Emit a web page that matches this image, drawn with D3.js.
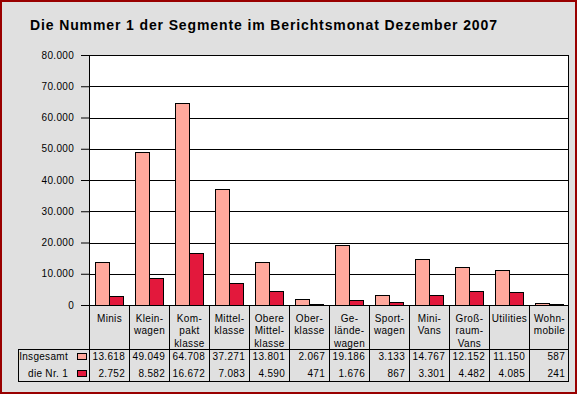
<!DOCTYPE html>
<html>
<head>
<meta charset="utf-8">
<style>
  body { margin: 0; background: #fff; }
  text { font-family: "Liberation Sans", Arial, sans-serif; fill: #000; }
</style>
</head>
<body>
<div id="chart"></div>
<script src="https://cdn.jsdelivr.net/npm/d3@7"></script>
<script>
// data
var categories = ["Minis", "Klein-\nwagen", "Kom-\npakt\nklasse", "Mittel-\nklasse", "Obere\nMittel-\nklasse",
  "Ober-\nklasse", "Ge-\nlände-\nwagen", "Sport-\nwagen", "Mini-\nVans", "Groß-\nraum-\nVans", "Utilities", "Wohn-\nmobile"];
var seriesNames = ["Insgesamt", "die Nr. 1"];
var insgesamt = [13618, 49049, 64708, 37271, 13801, 2067, 19186, 3133, 14767, 12152, 11150, 587];
var nummer1 = [2752, 8582, 16672, 7083, 4590, 471, 1676, 867, 3301, 4482, 4085, 241];
var yTicks = [0, 10000, 20000, 30000, 40000, 50000, 60000, 70000, 80000];
var title = "Die Nummer 1 der Segmente im Berichtsmonat Dezember 2007";

var colors = ["#ffa89c", "#e3183c"];
var series = [insgesamt, nummer1];

var W = 579, H = 396;
// plot box (named so it does not clash with window.top)
var plotL = 89, plotR = 569, plotT = 55, plotB = 305;

var de = d3.formatLocale({decimal: ",", thousands: ".", grouping: [3], currency: ["", " €"]});
var fmt = de.format(",d");

var svg = d3.select("#chart").append("svg")
    .attr("width", W)
    .attr("height", H);

// background and dark red frame
svg.append("rect")
    .attr("x", 1).attr("y", 1)
    .attr("width", 575).attr("height", 392)
    .attr("fill", "#e0e0e0")
    .attr("stroke", "#990000")
    .attr("stroke-width", 2);

svg.append("text")
    .attr("x", 30).attr("y", 29.5)
    .attr("textLength", 467)
    .attr("lengthAdjust", "spacing")
    .style("font-size", "14px")
    .style("font-weight", "bold")
    .text(title);

var x = d3.scaleBand()
    .domain(d3.range(categories.length))
    .range([plotL, plotR])
    .paddingInner(0.3)
    .paddingOuter(0.15);

var xs = d3.scaleBand()
    .domain(d3.range(series.length))
    .range([0, x.bandwidth()]);

var y = d3.scaleLinear()
    .domain([0, 80000])
    .range([plotB, plotT]);

// plot area
svg.append("rect")
    .attr("x", plotL).attr("y", plotT)
    .attr("width", plotR - plotL).attr("height", plotB - plotT)
    .attr("fill", "#fff");

// y axis with gridlines
var yAxis = svg.append("g")
    .attr("transform", "translate(" + plotL + ",0)")
    .call(d3.axisLeft(y).tickValues(yTicks).tickFormat(fmt).tickSize(8).tickPadding(7));
yAxis.select(".domain").remove();
yAxis.selectAll("line").attr("stroke", "#000");
yAxis.selectAll("text")
    .style("font-size", "10px")
    .style("letter-spacing", "0.3px")
    .style("font-family", "'Liberation Sans', Arial, sans-serif");

svg.append("g").selectAll("line")
  .data(yTicks.filter(function(d) { return d > 0; }))
  .enter().append("line")
    .attr("x1", plotL).attr("x2", plotR)
    .attr("y1", function(d) { return Math.round(y(d)) + 0.5; })
    .attr("y2", function(d) { return Math.round(y(d)) + 0.5; })
    .attr("stroke", "#000");

// bars
series.forEach(function(vals, s) {
  svg.append("g").selectAll("rect")
    .data(vals)
    .enter().append("rect")
      .attr("x", function(d, i) { return Math.round(x(i) + xs(s)) + 0.5; })
      .attr("y", function(d) { return Math.round(y(d)) + 0.5; })
      .attr("width", Math.round(xs.bandwidth()))
      .attr("height", function(d) { return Math.max(0, Math.round(plotB - y(d))); })
      .attr("fill", colors[s])
      .attr("stroke", "#000")
      .attr("stroke-width", 1);
});

// axis lines of the plot
var frame = svg.append("g").attr("stroke", "#000").attr("fill", "none");
frame.append("line").attr("x1", plotL + 0.5).attr("x2", plotL + 0.5).attr("y1", plotT).attr("y2", 381.5);
frame.append("line").attr("x1", plotR - 0.5).attr("x2", plotR - 0.5).attr("y1", plotT).attr("y2", 381.5);
frame.append("line").attr("x1", plotL - 8).attr("x2", plotR).attr("y1", plotB + 0.5).attr("y2", plotB + 0.5);

// data table
var rowTop = 349, rowBottom = 381, tableLeft = 18;
var step = x.step();
var colStarts = d3.range(categories.length).map(function(i) { return x(i) - x.paddingOuter() * step; });

frame.selectAll(".col")
  .data(colStarts.slice(1))
  .enter().append("line")
    .attr("x1", function(d) { return Math.round(d) + 0.5; })
    .attr("x2", function(d) { return Math.round(d) + 0.5; })
    .attr("y1", plotB).attr("y2", rowBottom + 0.5);
frame.append("line").attr("x1", tableLeft).attr("x2", plotR).attr("y1", rowTop + 0.5).attr("y2", rowTop + 0.5);
frame.append("line").attr("x1", tableLeft).attr("x2", plotR).attr("y1", rowBottom + 0.5).attr("y2", rowBottom + 0.5);
frame.append("line").attr("x1", tableLeft + 0.5).attr("x2", tableLeft + 0.5).attr("y1", rowTop).attr("y2", rowBottom + 0.5);

// category headers
var head = svg.append("g")
    .style("font-size", "10px")
    .style("letter-spacing", "0.35px")
    .attr("text-anchor", "middle");
categories.forEach(function(c, i) {
  var t = head.append("text")
      .attr("x", colStarts[i] + step / 2 + 0.5)
      .attr("y", 321.5);
  c.split("\n").forEach(function(line, k) {
    t.append("tspan")
      .attr("x", colStarts[i] + step / 2 + 0.5)
      .attr("dy", k === 0 ? 0 : 12.5)
      .text(line);
  });
});

// table rows
var rowBase = [360, 377];
series.forEach(function(vals, s) {
  var g = svg.append("g")
      .style("font-size", "10px")
      .style("letter-spacing", "0.3px");
  g.append("text")
      .attr("x", 68).attr("y", rowBase[s])
      .attr("text-anchor", "end")
      .text(seriesNames[s]);
  g.append("rect")
      .attr("x", 77.5).attr("y", rowBase[s] - 6.5)
      .attr("width", 9).attr("height", 6)
      .attr("fill", colors[s])
      .attr("stroke", "#000");
  g.selectAll(".v")
    .data(vals)
    .enter().append("text")
      .attr("x", function(d, i) { return colStarts[i] + step - 4; })
      .attr("y", rowBase[s])
      .attr("text-anchor", "end")
      .text(function(d) { return fmt(d); });
});
</script>
</body>
</html>
